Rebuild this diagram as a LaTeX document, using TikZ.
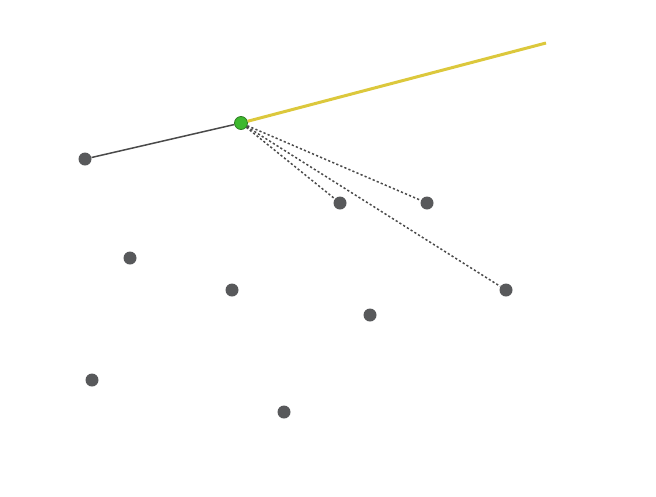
\documentclass[tikz,border=0pt]{standalone}
\usepackage{tikz}

\definecolor{dotgray}{HTML}{58595B}
\definecolor{linegray}{HTML}{4A4A4A}
\definecolor{activegreen}{HTML}{3DB82E}
\definecolor{edgegreen}{HTML}{2E7D23}
\definecolor{rayyellow}{HTML}{DCC83C}

\begin{document}
\begin{tikzpicture}[
    x = 1pt,
    y = -1pt,
    pt/.style = {circle, fill=dotgray, inner sep=0pt, minimum size=13pt},
    ]
    \useasboundingbox (0,0) rectangle (656,496);
    % points
    \node[pt] (p0) at (85, 159) {};
    \node[circle, fill=activegreen, draw=edgegreen, line width=0.8pt,
      inner sep=0pt, minimum size=13pt] (cur) at (241, 123) {};
    \node[pt] (pa) at (340, 203) {};
    \node[pt] (pb) at (427, 203) {};
    \node[pt] (pc) at (506, 290) {};
    \node[pt] (pd) at (130, 258) {};
    \node[pt] (pe) at (232, 290) {};
    \node[pt] (pf) at (370, 315) {};
    \node[pt] (pg) at (92, 380) {};
    \node[pt] (ph) at (284, 412) {};
    \coordinate (far) at (546, 43);
    % hull so far
    \draw[linegray, line width=1.5pt] (p0) -- (cur);
    \draw[rayyellow, line width=3pt] (cur) -- (far);
    % candidates
    \begin{scope}[dash pattern=on 2.2pt off 2.2pt, linegray, line width=1.5pt]
      \foreach \p in {pa, pb, pc}
      \draw (cur) -- (\p);
    \end{scope}
  \end{tikzpicture}
\end{document}
